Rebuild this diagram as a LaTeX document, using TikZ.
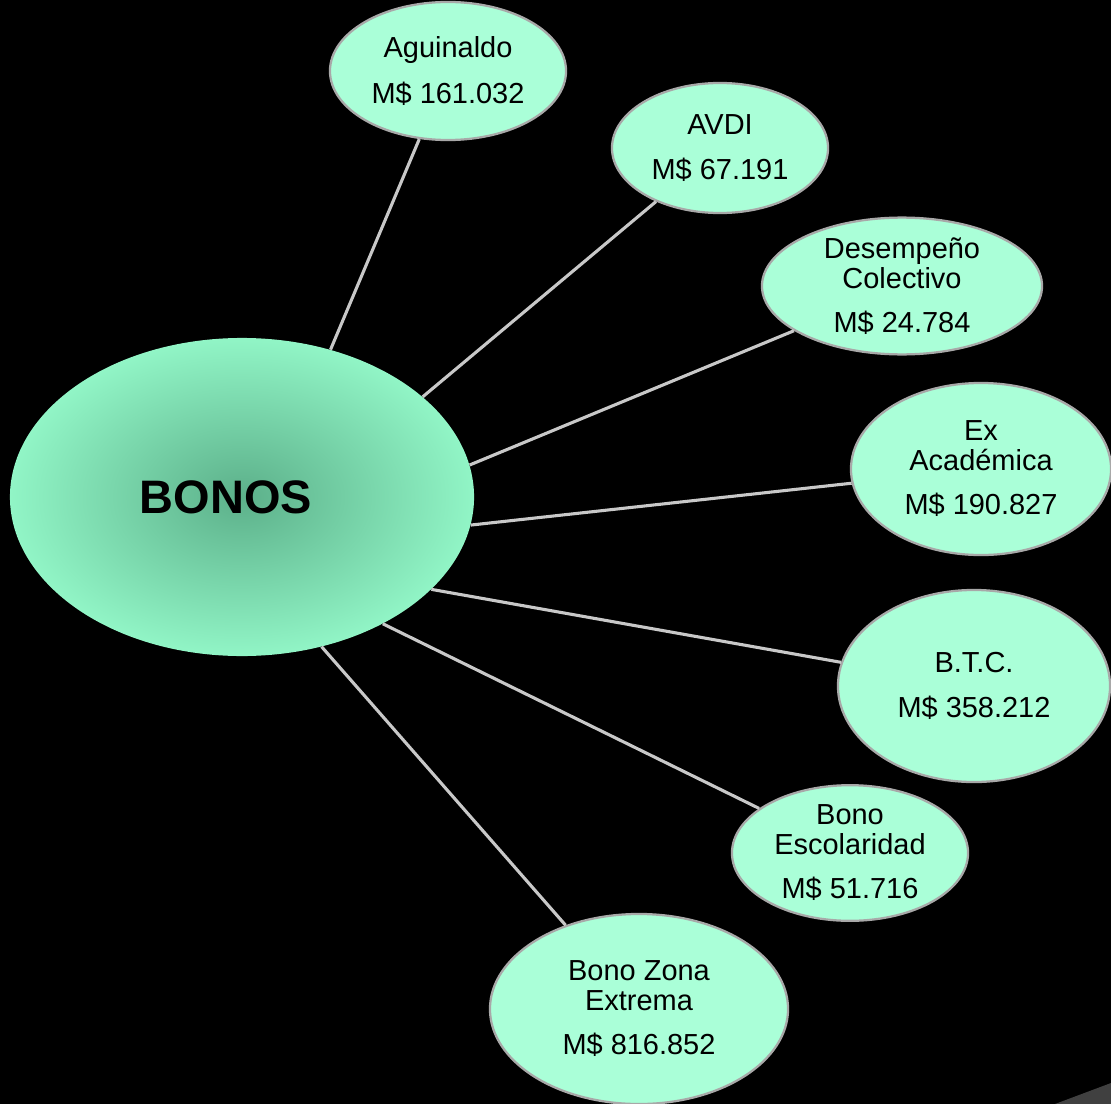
\documentclass[tikz,border=0pt]{standalone}
\usepackage{fontspec}
\setmainfont{Liberation Sans}
\usetikzlibrary{shapes.geometric}
\definecolor{menthe}{RGB}{170,255,216}
\definecolor{bordmenthe}{RGB}{168,168,168}
\definecolor{bonoscentre}{RGB}{92,176,138}
\definecolor{bonosbord}{RGB}{145,245,198}
\definecolor{trait}{RGB}{200,200,200}
\begin{document}
\begin{tikzpicture}[x=0.025cm,y=-0.025cm]
\tikzset{bulle/.style={draw=bordmenthe, line width=1.6pt, fill=menthe, ellipse, inner sep=0pt, align=center, font=\fontsize{20.6}{21.3}\selectfont},
  grosbulle/.style={ellipse, inner sep=0pt, shading=radial, inner color=bonoscentre, outer color=bonosbord, font=\fontsize{33.4}{36}\selectfont\bfseries},
  lien/.style={draw=trait, line width=2.2pt}}
\fill[black] (0,0) rectangle (1111,1104);
\clip (0,0) rectangle (1111,1104);
\fill[black!75] (1055,1104) -- (1111,1083) -- (1111,1104) -- cycle;
\node[grosbulle, minimum width=11.6cm, minimum height=7.95cm] (bonos) at (242,497) {\hspace*{-0.8cm}\raisebox{-0.12cm}{BONOS}};
\node[bulle, minimum width=5.9cm, minimum height=3.45cm] (agui) at (448,71) {Aguinaldo\\[11pt]M\$ 161.032};
\node[bulle, minimum width=5.4cm, minimum height=3.25cm] (avdi) at (720,148) {AVDI\\[11pt]M\$ 67.191};
\node[bulle, minimum width=7.0cm, minimum height=3.2cm] (desem) at (902,286) {Desempeño\\Colectivo\\[10pt]M\$ 24.784};
\node[bulle, minimum width=6.5cm, minimum height=4.3cm] (exac) at (981,469) {Ex\\Académica\\[10pt]M\$ 190.827};
\node[bulle, minimum width=6.8cm, minimum height=4.8cm] (btc) at (974,686) {B.T.C.\\[11pt]M\$ 358.212};
\node[bulle, minimum width=5.9cm, minimum height=3.15cm] (escol) at (850,853) {Bono\\Escolaridad\\[10pt]M\$ 51.716};
\node[bulle, minimum width=7.45cm, minimum height=4.75cm] (zona) at (639,1009) {Bono Zona\\Extrema\\[10pt]M\$ 816.852};
\draw[lien] (bonos.59) -- (agui);
\draw[lien] (bonos.29) -- (avdi);
\draw[lien] (bonos.8.5) -- (desem);
\draw[lien] (bonos.-7) -- (exac);
\draw[lien] (bonos.-26) -- (btc);
\draw[lien] (bonos.-42.5) -- (escol);
\draw[lien] (bonos.-62.7) -- (zona);
\end{tikzpicture}
\end{document}
